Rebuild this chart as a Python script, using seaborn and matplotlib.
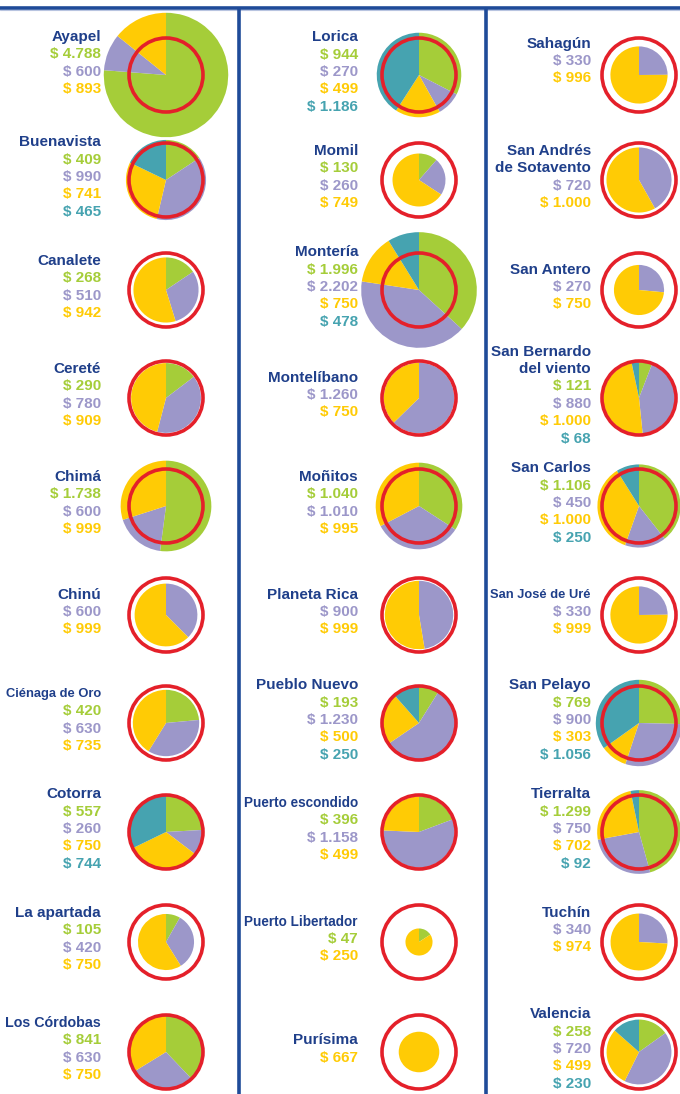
import matplotlib
matplotlib.use("Agg")
import matplotlib.pyplot as plt
from matplotlib.patches import Circle
import seaborn as sns
import numpy as np

# Data: municipios (3 columns of 10), values per category (None = not shown)
names = [
    "Ayapel", "Buenavista", "Canalete", "Cereté", "Chimá",
    "Chinú", "Ciénaga de Oro", "Cotorra", "La apartada", "Los Córdobas",
    "Lorica", "Momil", "Montería", "Montelíbano", "Moñitos",
    "Planeta Rica", "Pueblo Nuevo", "Puerto escondido", "Puerto Libertador", "Purísima",
    "Sahagún", "San Andrés\nde Sotavento", "San Antero", "San Bernardo\ndel viento", "San Carlos",
    "San José de Uré", "San Pelayo", "Tierralta", "Tuchín", "Valencia",
]
green = [4788, 409, 268, 290, 1738, None, 420, 557, 105, 841,
         944, 130, 1996, None, 1040, None, 193, 396, 47, None,
         None, None, None, 121, 1106, None, 769, 1299, None, 258]
purple = [600, 990, 510, 780, 600, 600, 630, 260, 420, 630,
          270, 260, 2202, 1260, 1010, 900, 1230, 1158, None, None,
          330, 720, 270, 880, 450, 330, 900, 750, 340, 720]
yellow = [893, 741, 942, 909, 999, 999, 735, 750, 750, 750,
          499, 749, 750, 750, 995, 999, 500, 499, 250, 667,
          996, 1000, 750, 1000, 1000, 999, 303, 702, 974, 499]
teal = [None, 465, None, None, None, None, None, 744, None, None,
        1186, None, 478, None, None, None, 250, None, None, None,
        None, None, None, 68, 250, None, 1056, 92, None, 230]

sns.set_style("white")
plt.rcParams['font.family'] = ['Liberation Sans', 'DejaVu Sans']

colors = sns.color_palette(["#a5cd39", "#9c97c9", "#ffcb05", "#46a3b0"])
name_color = "#1f3f8a"
ring_color = "#e4202a"
line_color = "#1f4b99"

W, H = 680, 1094
fig = plt.figure(figsize=(W / 100, H / 100), dpi=100)
ax = fig.add_axes([0, 0, 1, 1])

row_y = [75, 180, 290, 398, 506, 615, 723, 832, 942, 1052]
text_x = [101, 358, 591]
max_w = [97, 116, 101]   # room left of each pie for the names
pie_x = [166, 419, 639]
text_nudge = {0: -9, 20: -11, 28: -9}   # text blocks sitting higher in the original
k = 0.785
spacing = 17.4
fsize = 11

def fmt(v):
    return "$ " + f"{v:,}".replace(",", ".")

renderer = fig.canvas.get_renderer()
name_texts = []

for i, name in enumerate(names):
    col, row = divmod(i, 10)
    cx, cy = pie_x[col], H - row_y[row]
    vals, cols = [], []
    for series, c in zip([green, purple, yellow, teal], colors):
        if series[i] is not None:
            vals.append(series[i])
            cols.append(c)
    r = k * np.sqrt(sum(vals))
    ax.pie(vals, colors=cols, center=(cx, cy), radius=r, startangle=90,
           counterclock=False, wedgeprops=dict(linewidth=0))
    ax.add_patch(Circle((cx, cy), 37, fill=False, ec=ring_color, lw=2.6, zorder=5))

    lines = [(s, name_color, True) for s in name.split("\n")]
    lines += [(fmt(v), c, False) for v, c in zip(vals, cols)]
    n = len(lines)
    y0 = row_y[row] - 3 + text_nudge.get(i, 0) - (n - 1) / 2 * spacing
    for j, (s, c, is_name) in enumerate(lines):
        t = ax.text(text_x[col], H - (y0 + j * spacing), s, ha="right", va="center",
                    fontsize=fsize, fontweight="bold", color=c)
        if is_name:
            name_texts.append((t, max_w[col]))

# frame lines
ax.plot([0, W], [H - 7.5, H - 7.5], color=line_color, lw=2.6, solid_capstyle="butt")
ax.plot([0, W], [H - 10, H - 10], color="#b8c4e0", lw=0.8)
for x in [238.5, 486]:
    ax.plot([x, x], [0, H - 7.5], color=line_color, lw=2.6, solid_capstyle="butt")

ax.set_xlim(0, W)
ax.set_ylim(0, H)
ax.set_aspect("auto")
ax.axis("off")

# shrink long names so they fit beside their pie
for t, mw in name_texts:
    while t.get_window_extent(renderer).width > mw and t.get_fontsize() > 7:
        t.set_fontsize(t.get_fontsize() - 0.25)

fig.savefig("out.png", dpi=100)
